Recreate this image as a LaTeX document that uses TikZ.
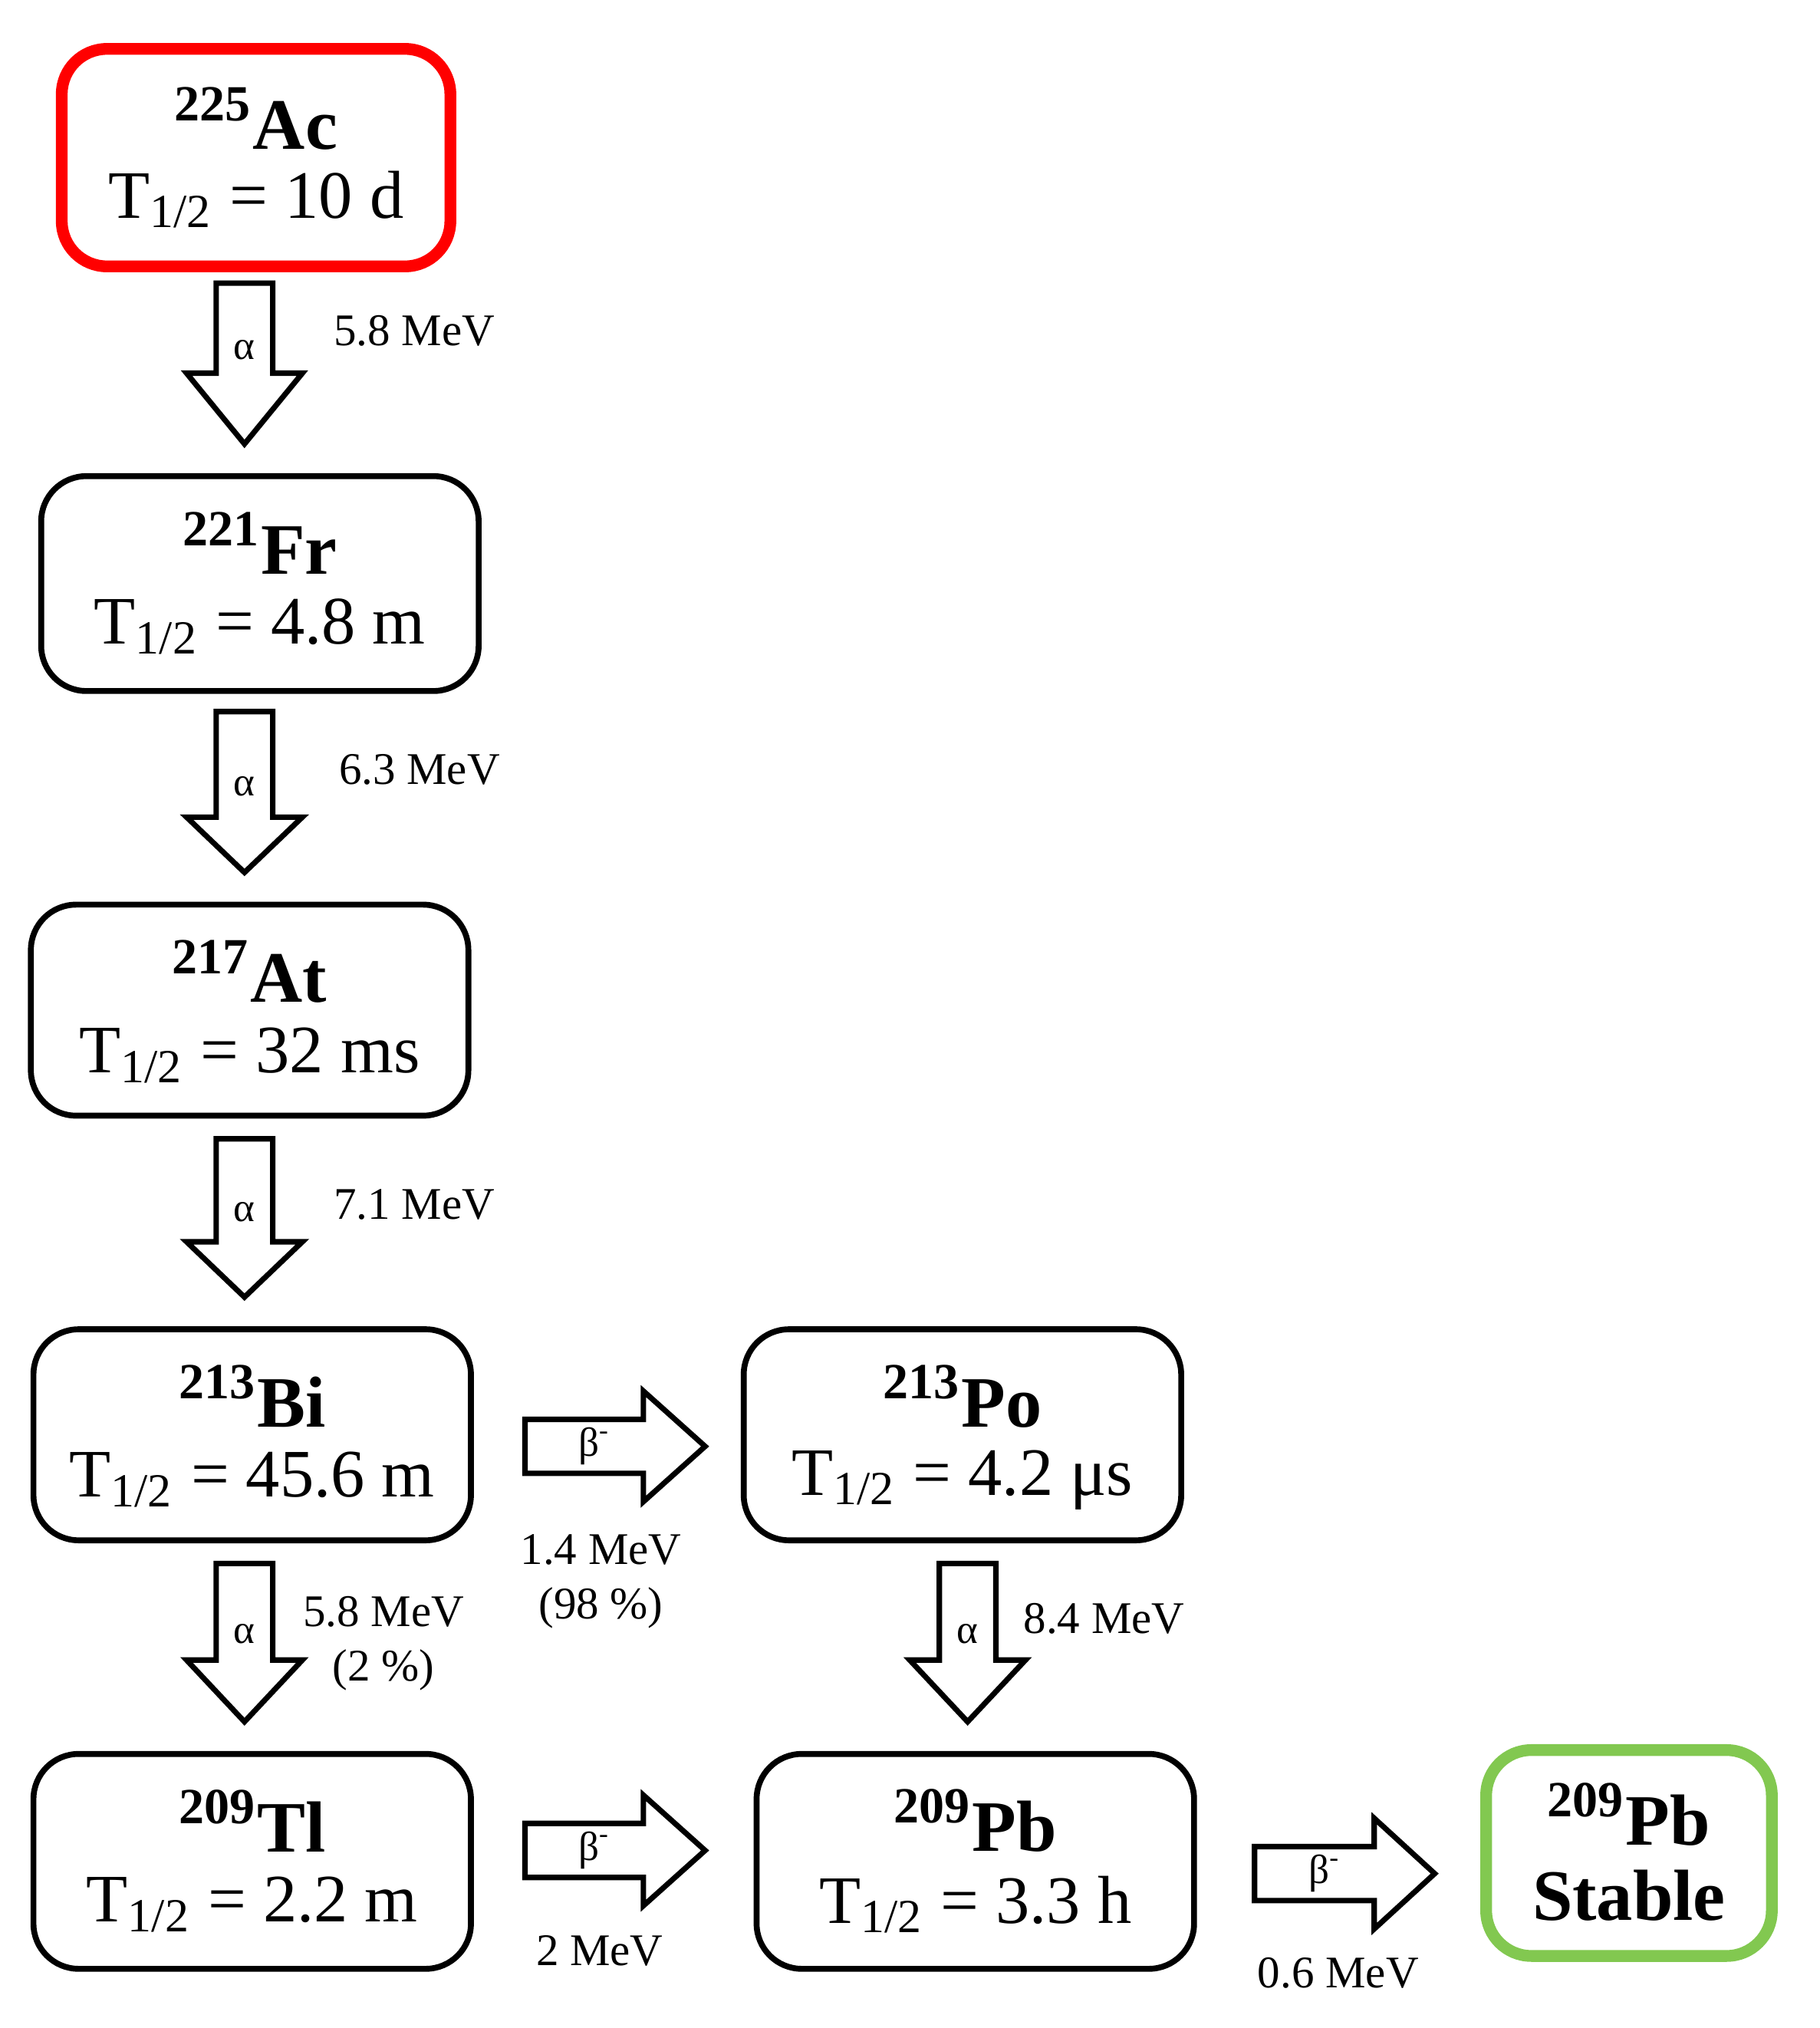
\documentclass[tikz,border=0pt]{standalone}
\usepackage{fontspec}
\setmainfont{Liberation Serif}
\begin{document}
\begin{tikzpicture}[x=0.01cm,y=-0.01cm,
  box/.style={draw,line width=1.3pt,rounded corners=10pt,fill=white},
  arr/.style={draw,line width=1.2pt,fill=white,line join=miter},
  nuc/.style={font=\fontsize{16}{19}\selectfont\bfseries},
  hl/.style={font=\fontsize{15}{18}\selectfont},
  lab/.style={font=\fontsize{10}{12}\selectfont,align=center},
  sym/.style={font=\fontsize{9}{11}\selectfont}]
\useasboundingbox (0,0) rectangle (1414,1576);
% boxes
\draw[box,draw=red,line width=2.6pt] (48,38) rectangle (350,207);
\node[nuc] (ac) at (199,92) {\textsuperscript{225}Ac};
\node[hl] (act) at (199,155) {T\textsubscript{1/2} = 10 d};
\draw[box] (32,370) rectangle (372,537);
\node[nuc] (fr) at (202,422) {\textsuperscript{221}Fr};
\node[hl] (frt) at (202,487) {T\textsubscript{1/2} = 4.8 m};
\draw[box] (24,703) rectangle (364,867);
\node[nuc] (at) at (194,755) {\textsuperscript{217}At};
\node[hl] (att) at (194,820) {T\textsubscript{1/2} = 32 ms};
\draw[box] (26,1033) rectangle (366,1197);
\node[nuc] (bi) at (196,1085) {\textsuperscript{213}Bi};
\node[hl] (bit) at (196,1150) {T\textsubscript{1/2} = 45.6 m};
\draw[box] (578,1033) rectangle (918,1197);
\node[nuc] (po) at (748,1085) {\textsuperscript{213}Po};
\node[hl] (pot) at (748,1150) {T\textsubscript{1/2} = 4.2 μs};
\draw[box] (26,1363) rectangle (366,1530);
\node[nuc] (tl) at (196,1415) {\textsuperscript{209}Tl};
\node[hl] (tlt) at (196,1480) {T\textsubscript{1/2} = 2.2 m};
\draw[box] (588,1363) rectangle (928,1530);
\node[nuc] (pb) at (758,1415) {\textsuperscript{209}Pb};
\node[hl] (pbt) at (758,1480) {T\textsubscript{1/2} = 3.3 h};
\draw[box,draw={rgb,255:red,130;green,200;blue,80},line width=2.6pt] (1155,1360) rectangle (1377,1520);
\node[nuc] (st) at (1266,1410) {\textsuperscript{209}Pb};
\node[nuc] (stt) at (1266,1473) {Stable};
% down arrows
\foreach \cx/\ya/\yb/\yt/\n in {190/220/290/345/a1,190/553/635/678/a2,190/885/965/1008/a3,190/1215/1290/1338/a4,752/1215/1290/1338/a5}{
  \draw[arr] (\cx-22,\ya) -- (\cx+22,\ya) -- (\cx+22,\yb) -- (\cx+45,\yb) -- (\cx,\yt) -- (\cx-45,\yb) -- (\cx-22,\yb) -- cycle;
  \node[sym] (\n) at (\cx,{(\ya+\yb)/2+17}) {α};
}
% right arrows
\foreach \xa/\xb/\xt/\cy/\n in {408/500/548/1124/b1,408/500/548/1438/b2,975/1068/1115/1456/b3}{
  \draw[arr] (\xa,\cy-21) -- (\xb,\cy-21) -- (\xb,\cy-43) -- (\xt,\cy) -- (\xb,\cy+43) -- (\xb,\cy+21) -- (\xa,\cy+21) -- cycle;
  \node[sym] (\n) at ({(\xa+\xb)/2+8},\cy) {β\textsuperscript{-}};
}
% labels
\node[lab] (l1) at (322,257) {5.8 MeV};
\node[lab] (l2) at (326,598) {6.3 MeV};
\node[lab] (l3) at (322,936) {7.1 MeV};
\node[lab] (l4) at (298,1277) {5.8 MeV\\(2 \%)};
\node[lab] (l5) at (467,1229) {1.4 MeV\\(98 \%)};
\node[lab] (l6) at (858,1258) {8.4 MeV};
\node[lab] (l7) at (466,1516) {2 MeV};
\node[lab] (l8) at (1040,1533) {0.6 MeV};
\end{tikzpicture}
\end{document}
